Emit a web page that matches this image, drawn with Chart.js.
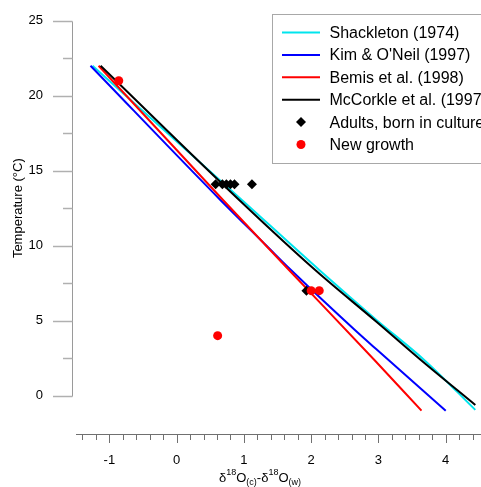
<!DOCTYPE html>
<html>
<head>
<meta charset="utf-8">
<script src="https://cdn.jsdelivr.net/npm/chart.js@4.4.1/dist/chart.umd.min.js"></script>
<style>
  html, body { margin: 0; padding: 0; background: #fff; }
  canvas { display: block; }
</style>
</head>
<body>
<canvas id="myChart" width="481" height="487"></canvas>
<script>
// curves (x = d18O(c) - d18O(w), y = temperature)
const shackletonX = [-1.25, 0.97, 2.12, 2.97, 3.70, 4.44];
const shackletonY = [22.0, 13.05, 8.38, 5.05, 2.3, -0.95];

const kimX = [-1.28, 0.65, 1.34, 1.70, 2.65, 2.97, 4.0];
const kimY = [22.0, 13.05, 9.98, 8.38, 4.38, 3.09, -1.0];

const bemisX = [-1.16, 0.69, 1.67, 2.94, 3.64];
const bemisY = [22.0, 13.05, 8.38, 2.38, -1.0];

const mccorkleX = [-1.13, 0.93, 2.06, 2.97, 3.63, 4.44];
const mccorkleY = [22.0, 13.05, 8.38, 4.93, 2.38, -0.62];

// measured points
const adultsX = [0.58, 0.68, 0.74, 0.80, 0.86, 1.12, 1.93];
const adultsY = [14.1, 14.1, 14.1, 14.1, 14.1, 14.1, 7.0];

const growthX = [-0.86, 0.61, 2.0, 2.12];
const growthY = [21.0, 4.0, 7.0, 7.0];

// axis ticks
const xTicks = [-1, 0, 1, 2, 3, 4];
const yTicks = [0, 5, 10, 15, 20, 25];
const yMinorTicks = [2.5, 7.5, 12.5, 17.5, 22.5];

const FONT = '"Liberation Sans", Arial, sans-serif';

function pts(xs, ys) {
    const out = [];
    for (let i = 0; i < xs.length; i++) out.push({ x: xs[i], y: ys[i] });
    return out;
}

function px(v) { return Math.round(v) + 0.5; }

const axesPlugin = {
    id: 'axes',
    beforeDatasetsDraw(chart) {
        const ctx = chart.ctx;
        const xs = chart.scales.x, ys = chart.scales.y;
        ctx.save();
        ctx.lineWidth = 1;

        // y axis, only between 0 and 25
        const yAxisX = 72.5;
        ctx.strokeStyle = '#9a9a9a';
        ctx.beginPath();
        ctx.moveTo(yAxisX, px(ys.getPixelForValue(yTicks[yTicks.length - 1])));
        ctx.lineTo(yAxisX, px(ys.getPixelForValue(yTicks[0])));
        ctx.stroke();
        ctx.strokeStyle = '#b0b0b0';
        ctx.lineWidth = 1.5;
        yTicks.forEach(t => {
            const y = px(ys.getPixelForValue(t));
            ctx.beginPath(); ctx.moveTo(53, y); ctx.lineTo(yAxisX, y); ctx.stroke();
        });
        yMinorTicks.forEach(t => {
            const y = px(ys.getPixelForValue(t));
            ctx.beginPath(); ctx.moveTo(63, y); ctx.lineTo(yAxisX, y); ctx.stroke();
        });
        ctx.fillStyle = '#000';
        ctx.font = '13px ' + FONT;
        ctx.textAlign = 'right';
        ctx.textBaseline = 'middle';
        yTicks.forEach(t => ctx.fillText(String(t), 43, ys.getPixelForValue(t)));

        // x axis
        const xAxisY = 434.5;
        ctx.lineWidth = 1;
        ctx.strokeStyle = '#707070';
        ctx.beginPath(); ctx.moveTo(76, xAxisY); ctx.lineTo(481, xAxisY); ctx.stroke();
        for (let i = -7; i <= 22; i++) {
            const v = i * 0.2;
            const x = px(xs.getPixelForValue(v));
            if (x < 76 || x > 481) continue;
            const major = i % 5 === 0;
            ctx.beginPath(); ctx.moveTo(x, xAxisY); ctx.lineTo(x, xAxisY + (major ? 8.5 : 5.5)); ctx.stroke();
        }
        ctx.textAlign = 'center';
        ctx.textBaseline = 'middle';
        xTicks.forEach(t => ctx.fillText(String(t), xs.getPixelForValue(t), 460));

        // x title with super/subscripts
        const parts = [
            ['δ', 13, 0], ['18', 9, -7], ['O', 13, 0], ['(c)', 9, 3],
            ['-', 13, 0], ['δ', 13, 0], ['18', 9, -7], ['O', 13, 0], ['(w)', 9, 3]
        ];
        let tx = 219;
        ctx.textAlign = 'left';
        ctx.textBaseline = 'alphabetic';
        parts.forEach(p => {
            ctx.font = p[1] + 'px ' + FONT;
            ctx.fillText(p[0], tx, 481.5 + p[2]);
            tx += ctx.measureText(p[0]).width;
        });

        // y title
        ctx.font = '13px ' + FONT;
        ctx.translate(18.5, ys.getPixelForValue(12.5));
        ctx.rotate(-Math.PI / 2);
        ctx.textAlign = 'center';
        ctx.textBaseline = 'middle';
        ctx.fillText('Temperature (°C)', 0, 0);
        ctx.restore();
    },
    afterDraw(chart) {
        const ctx = chart.ctx;
        ctx.save();
        ctx.strokeStyle = '#a8a8a8';
        ctx.lineWidth = 1;
        ctx.strokeRect(272.5, 14.5, 240, 149);
        ctx.font = '16px ' + FONT;
        ctx.textAlign = 'left';
        ctx.textBaseline = 'middle';
        chart.data.datasets.forEach((ds, i) => {
            const y = 32.5 + i * 22.4;
            if (ds.showLine) {
                ctx.strokeStyle = ds.borderColor;
                ctx.lineWidth = 2;
                ctx.beginPath(); ctx.moveTo(282, y); ctx.lineTo(320, y); ctx.stroke();
            } else {
                ctx.fillStyle = ds.backgroundColor;
                ctx.beginPath();
                if (ds.pointStyle === 'rectRot') {
                    ctx.moveTo(301, y - 5); ctx.lineTo(306, y); ctx.lineTo(301, y + 5); ctx.lineTo(296, y);
                } else {
                    ctx.arc(301, y, 4.5, 0, Math.PI * 2);
                }
                ctx.closePath();
                ctx.fill();
            }
            ctx.fillStyle = '#000';
            ctx.fillText(ds.label, 329.5, y + 1);
        });
        ctx.restore();
    }
};

const lineStyle = { showLine: true, pointRadius: 0, borderWidth: 2, cubicInterpolationMode: 'monotone' };

new Chart(document.getElementById('myChart').getContext('2d'), {
    type: 'scatter',
    data: {
        datasets: [
            Object.assign({ label: 'Shackleton (1974)', data: pts(shackletonX, shackletonY), borderColor: '#00e5ee', order: 5 }, lineStyle),
            Object.assign({ label: "Kim & O'Neil (1997)", data: pts(kimX, kimY), borderColor: '#0000ff', order: 4 }, lineStyle),
            Object.assign({ label: 'Bemis et al. (1998)', data: pts(bemisX, bemisY), borderColor: '#ff0000', order: 3 }, lineStyle),
            Object.assign({ label: 'McCorkle et al. (1997)', data: pts(mccorkleX, mccorkleY), borderColor: '#000000', order: 2 }, lineStyle),
            {
                label: 'Adults, born in culture', data: pts(adultsX, adultsY), showLine: false,
                pointStyle: 'rectRot', pointRadius: 5, pointBorderWidth: 0,
                backgroundColor: '#000000', borderColor: '#000000', order: 1
            },
            {
                label: 'New growth', data: pts(growthX, growthY), showLine: false,
                pointStyle: 'circle', pointRadius: 4.5, pointBorderWidth: 0,
                backgroundColor: '#ff0000', borderColor: '#ff0000', order: 0
            }
        ]
    },
    options: {
        responsive: false,
        animation: false,
        layout: { padding: { left: 73, right: 0, top: 14, bottom: 52.5 } },
        plugins: { legend: { display: false }, tooltip: { enabled: false } },
        scales: {
            x: { type: 'linear', display: false, min: -1.54, max: 4.45 },
            y: { type: 'linear', display: false, min: -2.59, max: 25.45 }
        }
    },
    plugins: [axesPlugin]
});
</script>
</body>
</html>
